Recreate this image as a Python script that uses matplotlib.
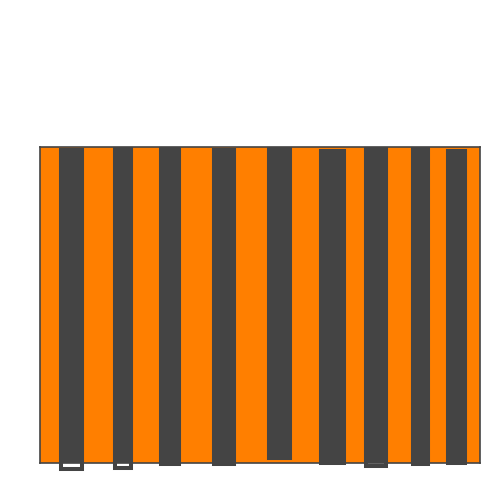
import matplotlib
matplotlib.use("Agg")
import matplotlib.pyplot as plt

# -----------------------------------
# DATA
# -----------------------------------

positions = [3.15, 8.3, 13.0, 18.4, 23.95, 29.25, 33.6, 38.05, 41.65]
widths = [2.1, 1.6, 1.8, 2.0, 2.1, 2.3, 2.0, 1.5, 1.7]
lows = [-1.8, -1.5, -0.4, -0.4, 1.5, -0.1, -0.8, -0.4, -0.1]
highs = [99.05, 99.4, 99.4, 99.05, 99.4, 98.7, 99.4, 99.4, 98.7]

heights = [h - l for h, l in zip(highs, lows)]

DARK = "#444444"
ORANGE = "#ff7f00"

# -----------------------------------
# PLOT
# -----------------------------------

fig = plt.figure(figsize=(5, 5), dpi=100)
ax = fig.add_axes([0.08, 0.074, 0.88, 0.632])
ax.set_facecolor(ORANGE)

# outline layer (not clipped, shows below the axes)
ax.bar(
    positions,
    heights,
    width=widths,
    bottom=lows,
    facecolor="white",
    edgecolor=DARK,
    linewidth=2.9,
    clip_on=False,
    zorder=2
)

# filled layer (clipped to axes)
ax.bar(
    positions,
    heights,
    width=widths,
    bottom=lows,
    facecolor=DARK,
    edgecolor=DARK,
    linewidth=2.9,
    zorder=3
)

ax.set_xlim(0, 44)
ax.set_ylim(0, 100)

ax.set_xticks([])
ax.set_yticks([])

for spine in ax.spines.values():
    spine.set_color(DARK)
    spine.set_linewidth(1.2)
    spine.set_zorder(4)

fig.savefig("out.png", dpi=100)
